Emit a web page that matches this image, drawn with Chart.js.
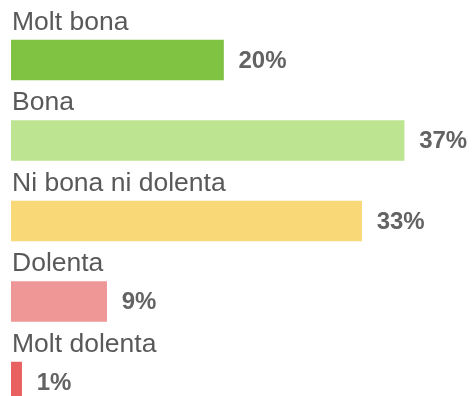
<!DOCTYPE html>
<html>
<head>
<meta charset="utf-8">
<style>
  html, body { margin: 0; padding: 0; background: #ffffff; overflow: hidden; }
  #wrap { width: 472px; height: 396px; overflow: hidden; position: relative; }
  canvas { display: block; }
</style>
<script src="https://cdn.jsdelivr.net/npm/chart.js@4/dist/chart.umd.min.js"></script>
</head>
<body>
<div id="wrap"><canvas id="chart" width="472" height="430"></canvas></div>
<script>
// Survey answers and their share of responses (%)
const categories = ["Molt bona", "Bona", "Ni bona ni dolenta", "Dolenta", "Molt dolenta"];
const shares = [20, 37, 33, 9, 1];
const barColors = ["#80c241", "#bde490", "#f9d877", "#ef9797", "#e96060"];

const FONT = "'Liberation Sans', Arial, Helvetica, sans-serif";

// Draws the category name above each bar and the percentage to its right
const barLabels = {
  id: "barLabels",
  afterDatasetsDraw(chart) {
    const ctx = chart.ctx;
    const meta = chart.getDatasetMeta(0);
    ctx.save();
    meta.data.forEach((bar, i) => {
      const top = bar.y - bar.height / 2;
      const left = bar.base;
      ctx.font = "26.5px " + FONT;
      ctx.fillStyle = "#595959";
      ctx.textAlign = "left";
      ctx.textBaseline = "alphabetic";
      ctx.fillText(categories[i], left + 1, top - 10.5);

      ctx.font = "bold 24px " + FONT;
      ctx.fillStyle = "#636363";
      ctx.textBaseline = "middle";
      ctx.fillText(shares[i] + "%", bar.x + 15, bar.y + 1);
    });
    ctx.restore();
  }
};

new Chart(document.getElementById("chart"), {
  type: "bar",
  data: {
    labels: categories,
    datasets: [{
      data: shares,
      backgroundColor: barColors,
      borderWidth: 0,
      barThickness: 40
    }]
  },
  options: {
    indexAxis: "y",
    responsive: false,
    animation: false,
    devicePixelRatio: 1,
    layout: { padding: { left: 11, right: 36, top: 19.75, bottom: 7.75 } },
    plugins: {
      legend: { display: false },
      title: { display: false },
      tooltip: { enabled: false }
    },
    scales: {
      x: { display: false, min: 0, max: 40 },
      y: { display: false }
    }
  },
  plugins: [barLabels]
});
</script>
</body>
</html>
